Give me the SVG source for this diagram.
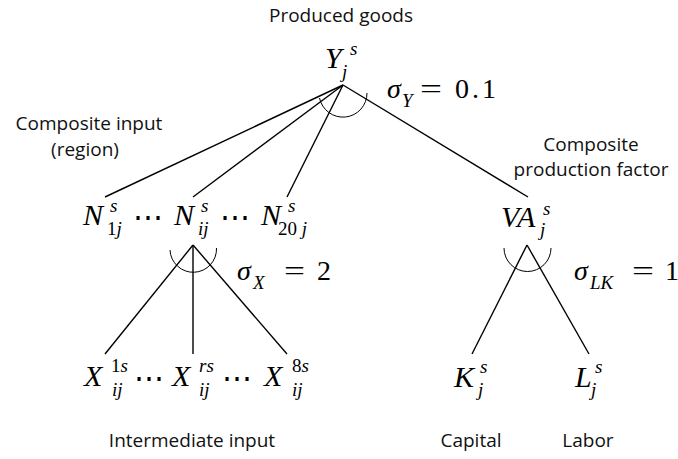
<svg xmlns="http://www.w3.org/2000/svg" width="678" height="459" viewBox="0 0 678 459">
<style>
.lbl{font-family:"Open Sans","Liberation Sans",sans-serif;font-size:19px;fill:#111;text-anchor:middle}
.m{font-family:"Liberation Serif","DejaVu Serif",serif;font-size:30px;font-style:italic;fill:#000}
.sc{font-family:"Liberation Serif","DejaVu Serif",serif;font-size:19px;font-style:italic;fill:#000}
.r{font-style:normal}
.dots{font-family:"DejaVu Serif",serif;font-size:30px;fill:#000;text-anchor:middle}
.eq{font-family:"Liberation Serif","DejaVu Serif",serif;font-size:28px;fill:#000}
.ln{stroke:#000;stroke-width:1.4;fill:none}
.arc{stroke:#000;stroke-width:1;fill:none}
</style>
<rect width="678" height="459" fill="#fff"/>
<g id="connectors">
<line class="ln" x1="343" y1="85" x2="105" y2="197"/>
<line class="ln" x1="343" y1="85" x2="193" y2="197"/>
<line class="ln" x1="343" y1="85" x2="287" y2="197"/>
<line class="ln" x1="343" y1="85" x2="528" y2="197"/>
<path class="arc" d="M319.5 98 A24 24 0 0 0 367 93"/>
<line class="ln" x1="193" y1="245" x2="105" y2="354"/>
<line class="ln" x1="193" y1="245" x2="193" y2="354"/>
<line class="ln" x1="193" y1="245" x2="287" y2="354"/>
<path class="arc" d="M170 250 A23 23 0 0 0 216.5 248"/>
<line class="ln" x1="527" y1="245" x2="472" y2="354"/>
<line class="ln" x1="527" y1="245" x2="589" y2="354"/>
<path class="arc" d="M504 248 A23.5 23.5 0 0 0 551 248"/>
</g>
<g id="label-produced"><text class="lbl" x="341" y="22">Produced goods</text></g>
<g id="node-Y">
<text class="m" x="325" y="68">Y</text><text class="sc" x="350" y="55">s</text><text class="sc" x="342" y="78">j</text>
</g>
<g id="sigma-Y"><text class="eq" x="387" y="98"><tspan font-style="italic">σ</tspan></text><text class="sc" x="402" y="107" font-size="17">Y</text><text class="eq" x="420" y="98" textLength="22" lengthAdjust="spacingAndGlyphs">=</text><text class="eq" x="455" y="98" letter-spacing="3">0.1</text></g>
<g id="label-composite-input"><text class="lbl" x="89" y="130">Composite input</text><text class="lbl" x="85" y="156">(region)</text></g>
<g id="label-composite-factor"><text class="lbl" x="591" y="151">Composite</text><text class="lbl" x="591" y="176">production factor</text></g>
<g id="node-N1">
<text class="m" x="83" y="225">N</text><text class="sc" x="110" y="212">s</text><text class="sc" x="107" y="235"><tspan class="r">1</tspan>j</text>
</g>
<text class="dots" x="147.5" y="227">⋯</text>
<g id="node-Nij">
<text class="m" x="174" y="225">N</text><text class="sc" x="201" y="212">s</text><text class="sc" x="198" y="235">ij</text>
</g>
<text class="dots" x="235" y="227">⋯</text>
<g id="node-N20">
<text class="m" x="261" y="225">N</text><text class="sc" x="288" y="212">s</text><text class="sc" x="278" y="235"><tspan class="r">20</tspan>  j</text>
</g>
<g id="node-VA">
<text class="m" x="501" y="227">VA</text><text class="sc" x="543" y="215">s</text><text class="sc" x="540" y="236">j</text>
</g>
<g id="sigma-X"><text class="eq" x="237" y="280"><tspan font-style="italic">σ</tspan></text><text class="sc" x="253" y="289" font-size="17">X</text><text class="eq" x="284" y="280" textLength="21" lengthAdjust="spacingAndGlyphs">=</text><text class="eq" x="317" y="280">2</text></g>
<g id="sigma-LK"><text class="eq" x="574" y="280"><tspan font-style="italic">σ</tspan></text><text class="sc" x="590" y="289" font-size="17">LK</text><text class="eq" x="632" y="280" textLength="22" lengthAdjust="spacingAndGlyphs">=</text><text class="eq" x="665" y="280">1</text></g>
<g id="node-X1">
<text class="m" x="84" y="386">X</text><text class="sc" x="111" y="372"><tspan class="r">1</tspan>s</text><text class="sc" x="112" y="396">ij</text>
</g>
<text class="dots" x="149" y="388">⋯</text>
<g id="node-Xr">
<text class="m" x="172" y="386">X</text><text class="sc" x="199" y="372">rs</text><text class="sc" x="199" y="396">ij</text>
</g>
<text class="dots" x="236.5" y="388">⋯</text>
<g id="node-X8">
<text class="m" x="264" y="386">X</text><text class="sc" x="292" y="372"><tspan class="r">8</tspan>s</text><text class="sc" x="292" y="396">ij</text>
</g>
<g id="node-K">
<text class="m" x="454" y="387">K</text><text class="sc" x="480" y="373">s</text><text class="sc" x="478" y="396">j</text>
</g>
<g id="node-L">
<text class="m" x="575" y="387">L</text><text class="sc" x="595" y="373">s</text><text class="sc" x="591" y="396">j</text>
</g>
<g id="label-intermediate"><text class="lbl" x="192" y="447">Intermediate input</text></g>
<g id="label-capital"><text class="lbl" x="471" y="447">Capital</text></g>
<g id="label-labor"><text class="lbl" x="588" y="447">Labor</text></g>
</svg>
